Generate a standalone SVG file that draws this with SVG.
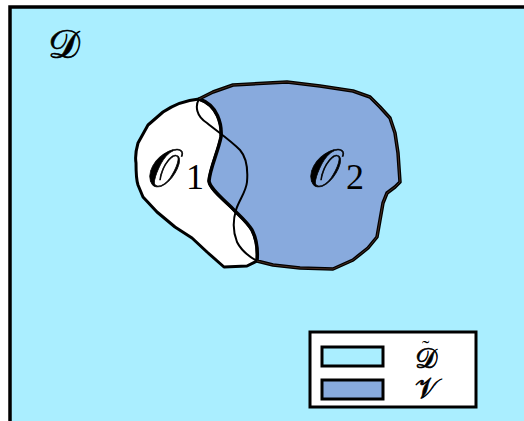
<svg xmlns="http://www.w3.org/2000/svg" width="524" height="421" viewBox="0 0 524 421">
<style>
.cal{font-family:"DejaVu Serif","Noto Sans","DejaVu Sans",serif;fill:#000;stroke:#000;stroke-width:0.7}
.num{font-family:"Liberation Serif",serif;fill:#000}
.sw{stroke:#000;stroke-width:3}
</style>
<rect x="0" y="0" width="524" height="421" fill="#fff"/>
<g id="domain">
<rect x="10" y="7" width="530" height="430" fill="#aaeeff" stroke="#000" stroke-width="3.5"/>
<text class="cal" x="48" y="58" font-size="40">𝒟</text>
</g>
<g id="O1">
<path d="M199,99 C188,100 175,104 163,112 L148,125 L138,143 C136,150 135,157 136,163 C136,172 137,182 138,185 L143,197 L157,212 L175,227 L192,238 L207,252 L224,267 L247,266 L257,261 C258,250 257,240 252,230 C247,222 240,216 235,211 C228,203 210,190 209,181 C210,168 218,152 221,137 C222,125 218,105 199,99 Z" fill="#fff" stroke="#000" stroke-width="3" stroke-linejoin="round"/>
<text class="cal" x="147" y="186" font-size="52">𝒪</text>
<text class="num" x="186" y="189" font-size="36">1</text>
</g>
<g id="O2">
<path d="M199,99 L213,92 L233,85 L287,82 L320,86 L353,91 L370,97 L380,107 L390,118 L395,133 L398,153 L400,182 L395,187 L387,193 L383,203 L380,220 L377,237 L368,248 L353,260 L333,269 L300,268 L273,265 L257,261 C258,250 257,240 252,230 C247,222 240,216 235,211 C228,203 210,190 209,181 C210,168 218,152 221,137 C222,125 218,105 199,99 Z" fill="#88aadd" stroke="#000" stroke-width="3.5" stroke-linejoin="round"/>
<path d="M199,99 L213,92 L233,85 L287,82 L320,86 L353,91 L370,97 L380,107 L390,118 L395,133 L398,153 L400,182 L395,187 L387,193 L383,203 L380,220 L377,237 L368,248 L353,260 L333,269 L300,268 L273,265 L257,261" fill="none" stroke="#5a3a2a" stroke-width="0.8"/>
<path d="M199,99 C195,106 196,116 207,123 C218,132 230,140 240,150 C247,158 248,170 247,182 C246,192 239,200 236,210 C233,220 233,232 237,242 C241,250 248,256 257,261" fill="none" stroke="#000" stroke-width="2"/>
<text class="cal" x="308" y="186" font-size="52">𝒪</text>
<text class="num" x="346" y="189" font-size="36">2</text>
</g>
<g id="legend">
<rect x="310" y="332" width="166" height="75" fill="#fff" stroke="#000" stroke-width="3"/>
<rect class="sw" x="322" y="347" width="61" height="19" fill="#aaeeff"/>
<rect class="sw" x="322" y="380" width="61" height="19" fill="#88aadd"/>
<text class="cal" x="415" y="368" font-size="28">𝒟<tspan x="422" y="355" font-size="22" style="font-family:'Liberation Serif',serif;stroke:none">˜</tspan></text>
<text class="cal" x="415" y="398" font-size="28">𝒱</text>
</g>
</svg>
